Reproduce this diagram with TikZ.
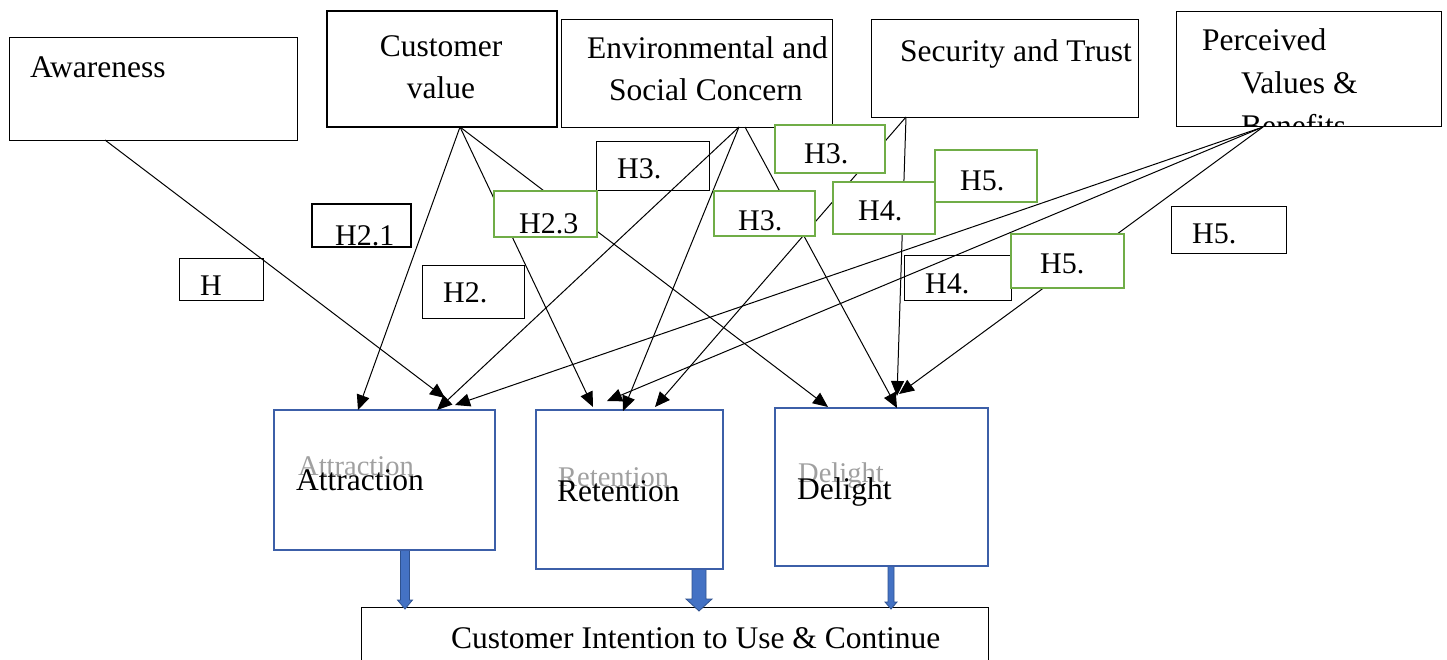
\documentclass[tikz,border=0pt]{standalone}
\usepackage{fontspec}
\setmainfont{Liberation Serif}
\usetikzlibrary{arrows.meta}
\definecolor{grn}{HTML}{70AD47}
\definecolor{bluebd}{HTML}{3C5FA8}
\definecolor{bluefill}{HTML}{4472C4}
\definecolor{bluedark}{HTML}{2F528F}
\definecolor{ghost}{HTML}{A0A0A0}
\tikzset{
 box/.style={draw=black, line width=1pt, inner sep=0pt},
 thickbox/.style={box, line width=2.4pt},
 greenbox/.style={draw=grn, line width=2.6pt, fill=white, inner sep=0pt},
 bluebox/.style={draw=bluebd, line width=2.8pt, fill=white, inner sep=0pt},
 txt/.style={inner sep=0pt, font=\fontsize{31.5pt}{37pt}\selectfont, anchor=base west},
 ctxt/.style={txt, anchor=base},
 lbl/.style={inner sep=0pt, font=\fontsize{30pt}{36pt}\selectfont, anchor=base west},
 ghosttxt/.style={inner sep=0pt, font=\fontsize{28.5pt}{34pt}\selectfont, anchor=base west, text=ghost},
 link/.style={line width=1pt, -{Triangle[length=15pt,width=13pt]}},
}
\newcommand\blockarr[6]{%
 \filldraw[fill=bluefill, draw=bluedark, line width=0.8pt]
  ({#1-#4/2},#2) -- ({#1-#4/2},{#3-#6}) -- ({#1-#5/2},{#3-#6}) -- (#1,#3)
  -- ({#1+#5/2},{#3-#6}) -- ({#1+#4/2},{#3-#6}) -- ({#1+#4/2},#2) -- cycle;}
\begin{document}
\begin{tikzpicture}[x=1pt,y=-1pt]
\useasboundingbox (0,0) rectangle (1447,659);
\clip (0,0) rectangle (1447,659);
\fill[white] (0,0) rectangle (1447,659);
% top boxes
\node[box, minimum width=288pt, minimum height=103pt] (aw) at (153,88.5) {};
\node[thickbox, minimum width=230pt, minimum height=116pt] (cv) at (442,69) {};
\node[box, minimum width=271pt, minimum height=108pt] (env) at (696.5,73) {};
\node[box, minimum width=267pt, minimum height=98pt] (sec) at (1004.5,68) {};
\node[box, minimum width=265pt, minimum height=115pt] (per) at (1308.5,68.5) {};
\node[txt] (awT) at (30,77) {Awareness};
\node[ctxt] (cvT1) at (441,56) {Customer};
\node[ctxt] (cvT2) at (441,98) {value};
\node[txt] (envT1) at (587,58) {Environmental and};
\node[txt] (envT2) at (609,100) {Social Concern};
\node[txt] (secT) at (900,61) {Security and Trust};
\node[txt] (perT1) at (1202,50) {Perceived};
\node[txt] (perT2) at (1241,93) {Values \&};
\begin{scope}
\clip (1176,11) rectangle (1441,126);
\node[txt] (perT3) at (1241,136) {Benefits};
\end{scope}
% bottom box and block arrows
\node[box, minimum width=627pt, minimum height=93pt] (cit) at (674.5,653.5) {};
\node[txt] (citT) at (451,648) {Customer Intention to Use \& Continue};
\blockarr{405}{548}{609}{9}{15}{9}
\blockarr{699}{567}{611}{14}{26}{12}
\blockarr{891}{564}{609}{6}{12}{7}
% blue boxes
\node[bluebox, minimum width=221pt, minimum height=140pt] (attr) at (384.5,480) {};
\node[bluebox, minimum width=187pt, minimum height=159pt] (ret) at (629.5,489.5) {};
\node[bluebox, minimum width=213pt, minimum height=158pt] (del) at (881.5,487) {};
\node[ghosttxt] (attrG) at (298,475) {Attraction};
\node[txt] (attrT) at (296,490) {Attraction};
\node[ghosttxt] (retG) at (558,486) {Retention};
\node[txt] (retT) at (557,501) {Retention};
\node[ghosttxt] (delG) at (798,482) {Delight};
\node[txt] (delT) at (797,499) {Delight};
% connector ends
\coordinate (awS) at (105,140);
\coordinate (cvS) at (460,127);
\coordinate (envS) at (739,127);
\coordinate (envS2) at (745,127);
\coordinate (secS) at (906,117);
\coordinate (perS) at (1263,127);
\coordinate (attrA) at (358,410);
\coordinate (attrB) at (445,398);
\coordinate (attrC) at (437,410);
\coordinate (attrD) at (455,405);
\coordinate (retA) at (593,407);
\coordinate (retB) at (607,401);
\coordinate (retC) at (623,411);
\coordinate (retD) at (655,407);
\coordinate (delA) at (828,407);
\coordinate (delB) at (897,408);
\coordinate (delC) at (897,396);
\coordinate (delD) at (899,394);
% connectors
\draw[link] (awS) -- (attrB);
\draw[link] (cvS) -- (attrA);
\draw[link] (cvS) -- (retA);
\draw[link] (cvS) -- (delA);
\draw[link] (envS) -- (attrC);
\draw[link] (envS) -- (retC);
\draw[link] (envS2) -- (delB);
\draw[link] (secS) -- (retD);
\draw[link] (secS) -- (delC);
\draw[link] (perS) -- (attrD);
\draw[link] (perS) -- (retB);
\draw[link] (perS) -- (delD);
% hypothesis labels
\node[box, minimum width=113pt, minimum height=49pt] (h3a) at (652.5,165.5) {};
\node[lbl] (h3aT) at (617,178) {H3.};
\node[greenbox, minimum width=110pt, minimum height=48pt] (h3b) at (830,149) {};
\node[lbl] (h3bT) at (804,163) {H3.};
\node[greenbox, minimum width=102pt, minimum height=52pt] (h5a) at (986,176) {};
\node[lbl] (h5aT) at (960,190) {H5.};
\node[greenbox, minimum width=102pt, minimum height=52pt] (h4a) at (884,208) {};
\node[lbl] (h4aT) at (858,220) {H4.};
\node[greenbox, minimum width=101pt, minimum height=45pt] (h3c) at (764.5,213.5) {};
\node[lbl] (h3cT) at (738,230) {H3.};
\node[greenbox, minimum width=103pt, minimum height=46pt] (h23) at (545.5,214) {};
\node[lbl] (h23T) at (519,233) {H2.3};
\node[thickbox, minimum width=99pt, minimum height=43pt] (h21) at (361.5,225.5) {};
\node[lbl] (h21T) at (335,245) {H2.1};
\node[box, minimum width=84pt, minimum height=42pt] (h1) at (221,279) {};
\node[lbl] (h1T) at (200,295) {H};
\node[box, minimum width=102pt, minimum height=53pt] (h2) at (473,291.5) {};
\node[lbl] (h2T) at (443,302) {H2.};
\node[box, minimum width=107pt, minimum height=45pt] (h4b) at (957.5,277.5) {};
\node[lbl] (h4bT) at (925,293) {H4.};
\node[greenbox, minimum width=113pt, minimum height=54pt] (h5b) at (1067.5,261) {};
\node[lbl] (h5bT) at (1040,273) {H5.};
\node[box, minimum width=115pt, minimum height=47pt] (h5c) at (1228.5,229.5) {};
\node[lbl] (h5cT) at (1192,243) {H5.};
\end{tikzpicture}
\end{document}
